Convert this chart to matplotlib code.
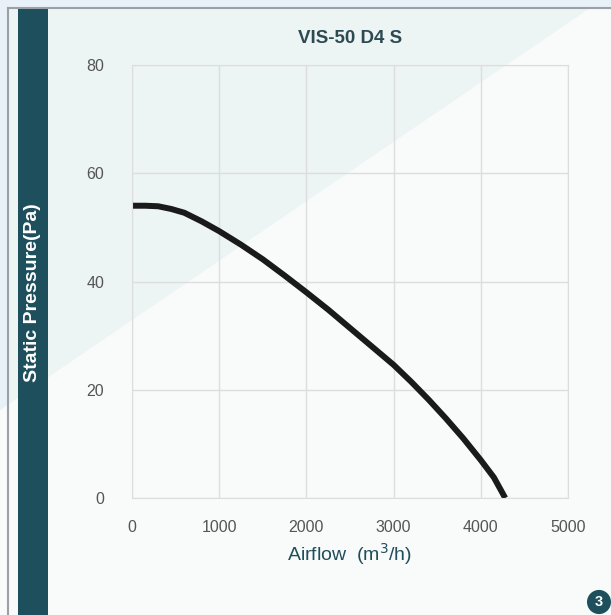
import matplotlib
matplotlib.use('Agg')
import matplotlib.pyplot as plt
from matplotlib.patches import Polygon, Rectangle, Circle

# values
airflow = [0, 150, 300, 450, 600, 800, 1000, 1250, 1500, 1750, 2000, 2250, 2500,
           2750, 3000, 3200, 3400, 3600, 3800, 4000, 4150, 4280]
pressure = [54.0, 54.0, 53.9, 53.4, 52.7, 51.1, 49.3, 46.8, 44.1, 41.1, 38.0, 34.8, 31.4,
            28.0, 24.6, 21.5, 18.2, 14.7, 11.0, 7.0, 3.8, 0.0]

xticks = [0, 1000, 2000, 3000, 4000, 5000]
yticks = [0, 20, 40, 60, 80]

title = 'VIS-50 D4 S'
teal = '#1d4f5c'

plt.rcParams['font.family'] = ['Liberation Sans', 'DejaVu Sans']

fig = plt.figure(figsize=(6.11, 6.15), dpi=100)
fig.patch.set_facecolor('#e8f0f8')

# panel background with the pale diagonal
fig.patches.append(Rectangle((8 / 611, 0), 1, 1 - 8 / 615, transform=fig.transFigure,
                             facecolor='#edf4f4', edgecolor='none', zorder=-5))
fig.patches.append(Polygon([(0, 1 - 410 / 615), (590 / 611, 1 - 8 / 615), (1, 1 - 8 / 615), (1, 0), (0, 0)],
                           closed=True, transform=fig.transFigure,
                           facecolor='#f9fafa', edgecolor='none', zorder=-4))
# grey frame lines
fig.add_artist(plt.Line2D([8 / 611, 8 / 611], [0, 1 - 8 / 615], transform=fig.transFigure,
                          color='#9aa0a6', lw=1.5))
fig.add_artist(plt.Line2D([8 / 611, 1], [1 - 8 / 615, 1 - 8 / 615], transform=fig.transFigure,
                          color='#9aa0a6', lw=1.5))
# dark side bar
fig.patches.append(Rectangle((18 / 611, 0), 30 / 611, 1 - 9 / 615, transform=fig.transFigure,
                             facecolor=teal, edgecolor='none', zorder=-3))

ax = fig.add_axes([132 / 611, 1 - 498 / 615, 436 / 611, 433 / 615])
ax.set_facecolor('none')
ax.plot(airflow, pressure, color='#1a1a1a', lw=4.3, solid_capstyle='butt')

ax.set_xlim(0, 5000)
ax.set_ylim(0, 80)
ax.set_xticks(xticks)
ax.set_yticks(yticks)
ax.grid(True, color='#dddddd', lw=1)
ax.tick_params(length=0, labelsize=11.5, labelcolor='#555555')
ax.tick_params(axis='x', pad=16)
ax.tick_params(axis='y', pad=20)
for s in ax.spines.values():
    s.set_color('#dddddd')

ax.set_title(title, fontsize=13.5, fontweight='bold', color='#2c4a52', pad=16)
ax.set_xlabel('Airflow  (m$^3$/h)', fontsize=14, color='#1f4f5a', labelpad=4)

fig.text(33 / 611, 1 - 293 / 615, 'Static Pressure(Pa)', rotation=90, color='white',
         fontsize=14, fontweight='bold', ha='center', va='center')

# page badge
fig.patches.append(Circle((599 / 611, 1 - 602 / 615), 12 / 611, transform=fig.transFigure,
                          facecolor=teal, edgecolor='none'))
fig.text(599 / 611, 1 - 602 / 615, '3', color='white', fontsize=10.5, fontweight='bold',
         ha='center', va='center')

fig.savefig('out.png', dpi=100, facecolor=fig.get_facecolor())
